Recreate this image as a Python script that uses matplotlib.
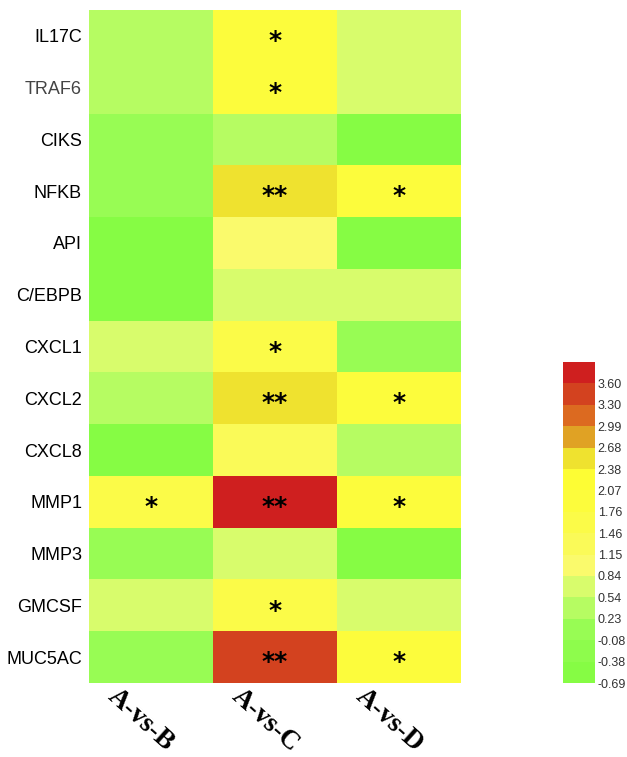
import matplotlib
matplotlib.use("Agg")
import matplotlib.pyplot as plt
import numpy as np
from matplotlib.colors import ListedColormap, BoundaryNorm

genes = ["IL17C", "TRAF6", "CIKS", "NFKB", "API", "C/EBPB", "CXCL1",
         "CXCL2", "CXCL8", "MMP1", "MMP3", "GMCSF", "MUC5AC"]
groups = ["A-vs-B", "A-vs-C", "A-vs-D"]

# log fold change
a_vs_b = [0.40, 0.40, 0.10, 0.10, -0.50, -0.50, 0.70, 0.40, -0.50, 1.60, 0.10, 0.70, 0.10]
a_vs_c = [1.90, 1.90, 0.40, 2.50, 1.00, 0.70, 1.70, 2.50, 1.30, 3.70, 0.70, 1.70, 3.40]
a_vs_d = [0.70, 0.70, -0.50, 1.90, -0.50, 0.70, 0.10, 1.90, 0.40, 1.90, -0.50, 0.70, 1.90]

# significance marks
sig_b = ["", "", "", "", "", "", "", "", "", "*", "", "", ""]
sig_c = ["*", "*", "", "**", "", "", "*", "**", "", "**", "", "*", "**"]
sig_d = ["", "", "", "*", "", "", "", "*", "", "*", "", "", "*"]

# colour key
bounds = [-0.69, -0.38, -0.08, 0.23, 0.54, 0.84, 1.15, 1.46, 1.76, 2.07,
          2.38, 2.68, 2.99, 3.30, 3.60, 3.91]
tick_labels = ["-0.69", "-0.38", "-0.08", "0.23", "0.54", "0.84", "1.15", "1.46",
               "1.76", "2.07", "2.38", "2.68", "2.99", "3.30", "3.60"]
colors = ["#86fc44", "#8efc4c", "#98fc54", "#b6fc62", "#d8fc6c", "#fafa6c",
          "#fafa58", "#fbfb48", "#fcfc3c", "#fdfd34", "#efe22f", "#e0a224",
          "#dc6a20", "#d3421f", "#cf1f1f"]

cmap = ListedColormap(colors)
norm = BoundaryNorm(bounds, cmap.N)

data = np.array([a_vs_b, a_vs_c, a_vs_d]).T
sigs = [sig_b, sig_c, sig_d]

fig = plt.figure(figsize=(6.27, 7.57), dpi=100)
ax = fig.add_axes([89/627, 74/757, 372/627, 673/757])
mesh = ax.pcolormesh(data, cmap=cmap, norm=norm)
ax.set_xlim(0, 3)
ax.set_ylim(len(genes), 0)
for s in ax.spines.values():
    s.set_visible(False)

ax.set_xticks([])
ax.set_yticks(np.arange(len(genes)) + 0.5)
ax.set_yticklabels(genes, fontsize=13, family="Liberation Sans", color="black")
ax.tick_params(axis="y", length=0, pad=5)
ax.get_yticklabels()[1].set_color("#444444")

for j in range(3):
    for i in range(len(genes)):
        if sigs[j][i]:
            ax.text(j + 0.5, i + 0.6, sigs[j][i], ha="center", va="center",
                    fontsize=18, fontweight="bold", family="DejaVu Sans", color="black")

for j, g in enumerate(groups):
    ax.text(j + 0.42, len(genes) + 0.72, g, ha="center", va="center",
            rotation=-42, fontsize=19.5, fontweight="bold",
            family="Liberation Serif", color="black", clip_on=False)

cax = fig.add_axes([563/627, 74/757, 32/627, 321/757])
cb = fig.colorbar(mesh, cax=cax, boundaries=bounds, ticks=bounds[:-1])
cb.set_ticklabels(tick_labels)
cb.minorticks_off()
cb.outline.set_visible(False)
cax.tick_params(which="both", length=0, pad=2, labelsize=9, labelcolor="#333333")
for t in cax.get_yticklabels():
    t.set_family("Liberation Sans")

fig.savefig("out.png", dpi=100)
